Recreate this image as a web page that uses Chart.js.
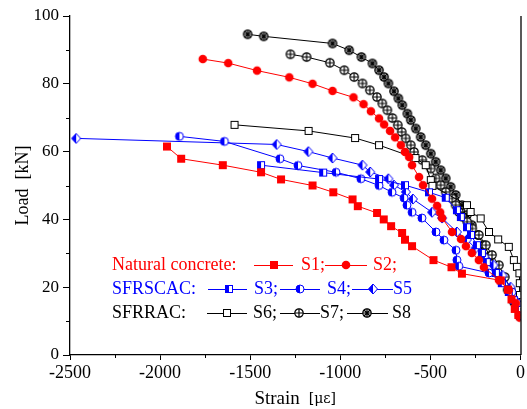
<!DOCTYPE html>
<html>
<head>
<meta charset="utf-8">
<script src="https://cdn.jsdelivr.net/npm/chart.js@4/dist/chart.umd.min.js"></script>
<style>
html, body { margin: 0; padding: 0; background: #fff; }
</style>
</head>
<body>
<canvas id="loadChart" width="527" height="409"></canvas>
<script>
// Strain (microstrain) and load (kN), one pair of arrays per specimen
const s1Strain = [-1962, -1883, -1652, -1440, -1329, -1154, -1039, -932, -903, -796, -759, -718, -657, -641, -602, -483, -383, -325, -110, -70, -50, -32, -12];
const s1Load = [61.5, 57.9, 56.0, 53.9, 51.8, 50.0, 48.0, 45.9, 43.9, 41.9, 40.0, 38.0, 36.0, 34.0, 32.1, 28.0, 25.9, 24.0, 22.0, 19.3, 16.4, 13.6, 11.8];

const s2Strain = [-1763, -1622, -1462, -1283, -1154, -1043, -927, -871, -830, -785, -757, -724, -696, -664, -641, -618, -602, -563, -541, -491, -463, -446, -435, -380, -330, -303, -270, -231, -203, -120, -65, -26, -4];
const s2Load = [87.3, 86.1, 83.9, 81.9, 80.0, 77.9, 76.0, 74.0, 71.9, 69.8, 68.0, 66.1, 64.2, 61.9, 59.9, 58.4, 56.0, 52.5, 50.1, 46.1, 44.0, 42.1, 40.4, 36.3, 34.2, 32.1, 30.1, 28.0, 25.9, 22.1, 19.2, 15.3, 11.0];

const s3Strain = [-1440, -1095, -785, -641, -508, -415, -353, -331, -297, -275, -242, -214, -187, -137, -104, -65, -37, -9, -2];
const s3Load = [56.0, 53.8, 51.9, 50.1, 48.0, 46.4, 42.7, 40.7, 37.7, 35.4, 32.4, 30.1, 27.4, 24.2, 21.2, 18.6, 16.2, 13.3, 11.5];

const s4Strain = [-1893, -1643, -1335, -1235, -1024, -886, -785, -713, -646, -630, -602, -547, -469, -425, -358, -353, -342, -175, -104, -48, -20, -2];
const s4Load = [64.5, 63.0, 57.9, 55.9, 53.9, 52.0, 50.0, 48.0, 46.3, 44.2, 42.1, 40.4, 36.3, 33.9, 30.9, 28.0, 26.2, 24.2, 21.5, 18.6, 15.3, 11.5];

const s5Strain = [-2466, -1353, -1177, -1043, -877, -834, -733, -702, -636, -597, -491, -435, -353, -297, -250, -200, -150, -100, -55, -25, -2];
const s5Load = [63.9, 62.1, 60.0, 58.1, 56.0, 54.0, 52.0, 50.1, 48.1, 46.0, 42.1, 40.4, 36.3, 34.0, 31.5, 29.0, 26.5, 23.5, 20.0, 16.0, 12.0];

const s6Strain = [-1587, -1176, -918, -785, -583, -526, -498, -489, -297, -277, -221, -175, -124, -65, -37, -20, -6, -4, -3, -2, -1];
const s6Load = [67.9, 66.1, 64.0, 61.9, 58.1, 56.0, 51.6, 49.9, 44.2, 42.2, 40.3, 36.3, 34.1, 31.9, 28.0, 26.0, 24.1, 21.2, 17.7, 14.7, 11.5];

const s7Strain = [-1277, -1187, -1058, -978, -923, -877, -836, -797, -767, -739, -711, -681, -659, -637, -609, -591, -545, -498, -471, -443, -415, -379, -360, -342, -323, -296, -268, -231, -192, -158, -120, -87, -54, -26, -4];
const s7Load = [88.7, 87.9, 86.2, 84.0, 82.0, 80.1, 78.1, 76.1, 74.2, 72.2, 69.9, 67.8, 65.8, 63.9, 61.9, 59.9, 57.5, 55.0, 52.1, 50.1, 48.1, 46.2, 44.2, 42.2, 40.8, 39.3, 37.3, 35.4, 32.4, 29.5, 26.5, 23.0, 19.2, 15.6, 11.8];

const s8Strain = [-1514, -1425, -1043, -951, -883, -822, -785, -757, -733, -702, -678, -656, -628, -609, -581, -554, -526, -498, -471, -443, -415, -388, -360, -325, -297, -270, -236, -203, -170, -137, -104, -71, -37, -4];
const s8Load = [94.6, 94.0, 91.9, 89.9, 87.9, 86.0, 84.0, 82.0, 80.1, 77.8, 75.7, 73.7, 71.2, 69.3, 66.8, 64.3, 61.9, 59.4, 57.0, 54.5, 52.1, 49.6, 47.2, 44.2, 41.3, 38.3, 35.4, 32.4, 29.2, 25.9, 22.7, 19.2, 15.6, 11.5];

const RED = "#ff0000";
const BLUE = "#0000ff";
const BLACK = "#000000";
const SERIF = "'Liberation Serif', 'Times New Roman', serif";

// small canvases used as point styles (Origin-like symbols)
function makeMarker(kind, color) {
    const size = 12;
    const c = document.createElement("canvas");
    c.width = size;
    c.height = size;
    const g = c.getContext("2d");
    const m = size / 2;
    g.lineWidth = 1;
    g.strokeStyle = color;
    g.fillStyle = color;

    if (kind === "square") {
        g.fillRect(2, 2, 8, 8);
    } else if (kind === "circle") {
        g.beginPath();
        g.arc(m, m, 4.3, 0, Math.PI * 2);
        g.fill();
    } else if (kind === "halfSquare" || kind === "openSquare") {
        g.fillStyle = "#fff";
        g.fillRect(2.5, 2.5, 7, 7);
        if (kind === "halfSquare") {
            g.fillStyle = color;
            g.fillRect(2.5, 2.5, 3.5, 7);
        }
        g.strokeRect(2.5, 2.5, 7, 7);
    } else if (kind === "halfCircle") {
        g.fillStyle = "#fff";
        g.beginPath();
        g.arc(m, m, 4, 0, Math.PI * 2);
        g.fill();
        g.fillStyle = color;
        g.beginPath();
        g.arc(m, m, 4, Math.PI / 2, Math.PI * 1.5);
        g.closePath();
        g.fill();
        g.beginPath();
        g.arc(m, m, 4, 0, Math.PI * 2);
        g.stroke();
    } else if (kind === "halfDiamond") {
        g.fillStyle = "#fff";
        g.beginPath();
        g.moveTo(m, m - 5); g.lineTo(m + 4.5, m); g.lineTo(m, m + 5); g.lineTo(m - 4.5, m);
        g.closePath();
        g.fill();
        g.fillStyle = color;
        g.beginPath();
        g.moveTo(m, m - 5); g.lineTo(m, m + 5); g.lineTo(m - 4.5, m);
        g.closePath();
        g.fill();
        g.beginPath();
        g.moveTo(m, m - 5); g.lineTo(m + 4.5, m); g.lineTo(m, m + 5); g.lineTo(m - 4.5, m);
        g.closePath();
        g.stroke();
    } else if (kind === "circlePlus" || kind === "circleStar") {
        g.lineWidth = 1.2;
        g.fillStyle = "#fff";
        g.beginPath();
        g.arc(m, m, 4.2, 0, Math.PI * 2);
        g.fill();
        g.stroke();
        g.beginPath();
        g.moveTo(m - 4.2, m); g.lineTo(m + 4.2, m);
        g.moveTo(m, m - 4.2); g.lineTo(m, m + 4.2);
        if (kind === "circleStar") {
            g.moveTo(m - 3, m - 3); g.lineTo(m + 3, m + 3);
            g.moveTo(m + 3, m - 3); g.lineTo(m - 3, m + 3);
        }
        g.stroke();
    }
    return c;
}

const markers = {
    S1: makeMarker("square", RED),
    S2: makeMarker("circle", RED),
    S3: makeMarker("halfSquare", BLUE),
    S4: makeMarker("halfCircle", BLUE),
    S5: makeMarker("halfDiamond", BLUE),
    S6: makeMarker("openSquare", BLACK),
    S7: makeMarker("circlePlus", BLACK),
    S8: makeMarker("circleStar", BLACK)
};

function series(label, strain, load, color) {
    return {
        label: label,
        data: strain.map((x, i) => ({ x: x, y: load[i] })),
        showLine: true,
        borderColor: color,
        borderWidth: 1,
        pointStyle: markers[label],
        pointRadius: 4,
        tension: 0
    };
}

const datasets = [
    series("S1", s1Strain, s1Load, RED),
    series("S2", s2Strain, s2Load, RED),
    series("S3", s3Strain, s3Load, BLUE),
    series("S4", s4Strain, s4Load, BLUE),
    series("S5", s5Strain, s5Load, BLUE),
    series("S6", s6Strain, s6Load, BLACK),
    series("S7", s7Strain, s7Load, BLACK),
    series("S8", s8Strain, s8Load, BLACK)
];

// legend rows: group text, then (line start, line end, marker x, symbol, label, label x) per entry
const legendRows = [
    { y: 265, color: RED, title: "Natural concrete:", items: [[254, 293, 274, "S1", "S1;", 301], [325, 367, 346, "S2", "S2;", 373]] },
    { y: 289, color: BLUE, title: "SFRSCAC:", items: [[208, 247, 229, "S3", "S3;", 254], [280, 320, 300, "S4", "S4;", 327], [352, 393, 373, "S5", "S5", 393]] },
    { y: 313, color: BLACK, title: "SFRRAC:", items: [[207, 247, 227, "S6", "S6;", 253], [280, 320, 299, "S7", "S7;", 320], [347, 388, 367, "S8", "S8", 392]] }
];

// only every other tick gets a label; the rest are short minor ticks
const isMajor = (axis, v) => (axis === "x" ? v % 500 === 0 : v % 20 === 0);

const extras = {
    id: "extras",
    afterDraw(chart) {
        const ctx = chart.ctx;
        const area = chart.chartArea;
        ctx.save();

        // right frame line
        ctx.strokeStyle = BLACK;
        ctx.lineWidth = 1.3;
        ctx.beginPath();
        ctx.moveTo(area.right + 0.5, area.top);
        ctx.lineTo(area.right + 0.5, area.bottom);
        ctx.stroke();

        // minor ticks
        ctx.lineWidth = 1;
        ctx.beginPath();
        chart.scales.x.ticks.forEach(t => {
            if (isMajor("x", t.value)) return;
            const px = Math.round(chart.scales.x.getPixelForValue(t.value)) + 0.5;
            ctx.moveTo(px, area.bottom);
            ctx.lineTo(px, area.bottom + 3);
        });
        chart.scales.y.ticks.forEach(t => {
            if (isMajor("y", t.value)) return;
            const py = Math.round(chart.scales.y.getPixelForValue(t.value)) + 0.5;
            ctx.moveTo(area.left, py);
            ctx.lineTo(area.left - 4, py);
        });
        ctx.stroke();

        // legend
        ctx.font = "18px " + SERIF;
        ctx.textBaseline = "middle";
        ctx.textAlign = "left";
        legendRows.forEach(row => {
            ctx.fillStyle = row.color;
            ctx.strokeStyle = row.color;
            ctx.lineWidth = 1;
            ctx.fillText(row.title, 112, row.y);
            row.items.forEach(it => {
                ctx.beginPath();
                ctx.moveTo(it[0], row.y + 0.5);
                ctx.lineTo(it[1], row.y + 0.5);
                ctx.stroke();
                const img = markers[it[3]];
                ctx.drawImage(img, it[2] - img.width / 2, row.y - img.height / 2);
                ctx.fillText(it[4], it[5], row.y);
            });
        });

        // x axis title, unit in a smaller face
        ctx.fillStyle = BLACK;
        ctx.textBaseline = "alphabetic";
        ctx.font = "19px " + SERIF;
        const w1 = ctx.measureText("Strain").width;
        ctx.font = "14px 'DejaVu Serif', serif";
        const w2 = ctx.measureText("[\u03bc\u03b5]").width;
        const gap = 9;
        const start = (area.left + area.right) / 2 - (w1 + gap + w2) / 2;
        ctx.font = "19px " + SERIF;
        ctx.fillText("Strain", start, 404);
        ctx.font = "14px 'DejaVu Serif', serif";
        ctx.fillText("[\u03bc\u03b5]", start + w1 + gap, 403);

        ctx.restore();
    }
};

new Chart(document.getElementById("loadChart").getContext("2d"), {
    type: "scatter",
    data: { datasets: datasets },
    options: {
        responsive: false,
        animation: false,
        layout: { padding: { top: 16, right: 5, left: 0, bottom: 0 } },
        plugins: { legend: { display: false }, tooltip: { enabled: false } },
        scales: {
            x: {
                type: "linear",
                min: -2500,
                max: 0,
                afterFit: s => { s.height = 54; },
                ticks: {
                    stepSize: 250,
                    autoSkip: false,
                    maxRotation: 0,
                    padding: 2,
                    color: BLACK,
                    font: { family: SERIF, size: 18 },
                    callback: v => (isMajor("x", v) ? String(v) : "")
                },
                grid: {
                    drawOnChartArea: false,
                    tickLength: 5,
                    tickWidth: 1,
                    tickColor: c => (c.tick && isMajor("x", c.tick.value) ? BLACK : "rgba(0,0,0,0)")
                },
                border: { color: BLACK, width: 1.3 }
            },
            y: {
                min: 0,
                max: 100,
                afterFit: s => { s.width = 70; },
                ticks: {
                    stepSize: 10,
                    autoSkip: false,
                    padding: 4,
                    color: BLACK,
                    font: { family: SERIF, size: 17 },
                    callback: v => (isMajor("y", v) ? String(v) : "")
                },
                grid: {
                    drawOnChartArea: false,
                    tickLength: 7,
                    tickWidth: 1,
                    tickColor: c => (c.tick && isMajor("y", c.tick.value) ? BLACK : "rgba(0,0,0,0)")
                },
                border: { color: BLACK, width: 1.3 },
                title: {
                    display: true,
                    text: "Load  [kN]",
                    color: BLACK,
                    font: { family: SERIF, size: 18 },
                    padding: { top: 12, bottom: 0 }
                }
            }
        }
    },
    plugins: [extras]
});
</script>
</body>
</html>
